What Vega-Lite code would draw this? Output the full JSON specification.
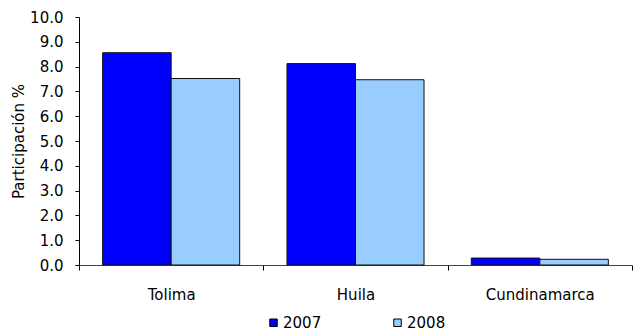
{
  "$schema": "https://vega.github.io/schema/vega-lite/v6.json",
  "autosize": "none",
  "width": 553,
  "height": 248,
  "padding": {"left": 79, "top": 17, "right": 1, "bottom": 66},
  "background": "white",
  "config": {
    "view": {"stroke": null},
    "font": "DejaVu Sans",
    "axis": {"labelFont": "DejaVu Sans", "titleFont": "DejaVu Sans", "labelColor": "black", "titleColor": "black", "domainColor": "black", "tickColor": "black", "grid": false}
  },
  "data": {
    "values": [
      {"Departamento": "Tolima", "Año": "2007", "Valor": 8.56},
      {"Departamento": "Tolima", "Año": "2008", "Valor": 7.52},
      {"Departamento": "Huila", "Año": "2007", "Valor": 8.12},
      {"Departamento": "Huila", "Año": "2008", "Valor": 7.47},
      {"Departamento": "Cundinamarca", "Año": "2007", "Valor": 0.28},
      {"Departamento": "Cundinamarca", "Año": "2008", "Valor": 0.23}
    ]
  },
  "mark": {"type": "bar", "stroke": "#111", "strokeWidth": 1},
  "encoding": {
    "x": {
      "field": "Departamento", "type": "nominal",
      "sort": ["Tolima", "Huila", "Cundinamarca"],
      "scale": {"paddingInner": 0, "paddingOuter": 0},
      "axis": {"title": null, "labelAngle": 0, "labelFontSize": 15, "labelPadding": 17, "tickBand": "extent", "tickSize": 5, "domainColor": "#444"}
    },
    "xOffset": {
      "field": "Año", "type": "nominal",
      "scale": {"paddingInner": 0, "paddingOuter": 0.345}
    },
    "y": {
      "field": "Valor", "type": "quantitative",
      "scale": {"domain": [0, 10], "nice": false},
      "axis": {"title": "Participación %", "format": ".1f", "values": [0,1,2,3,4,5,6,7,8,9,10], "labelOverlap": false, "labelFontSize": 15, "titleFontSize": 15, "titleFontWeight": "normal", "tickSize": 4, "labelPadding": 12, "titlePadding": 3}
    },
    "color": {
      "field": "Año", "type": "nominal",
      "scale": {"domain": ["2007", "2008"], "range": ["#0000ff", "#99ccff"]},
      "legend": {
        "title": null, "orient": "none", "direction": "horizontal",
        "legendX": 187, "legendY": 298,
        "symbolType": "square", "symbolSize": 56, "symbolStrokeColor": "black", "symbolStrokeWidth": 1,
        "labelFont": "DejaVu Sans", "labelFontSize": 15, "labelColor": "black", "labelOffset": 2, "columnPadding": 68
      }
    }
  }
}
